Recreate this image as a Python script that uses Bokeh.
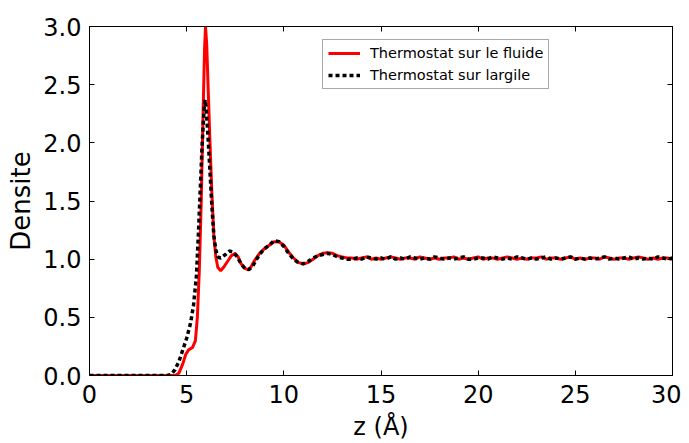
from bokeh.plotting import figure
from bokeh.models import (LinearAxis, Range1d, Legend, LegendItem, FixedTicker,
                          CustomJSTickFormatter)
from bokeh.embed import file_html
from bokeh.resources import INLINE

# ---- data ----
z_red_head = [0.0, 4.0, 4.4, 4.6, 4.8, 4.95, 5.1, 5.3, 5.45, 5.55, 5.65, 5.75, 5.85, 5.92,
              5.97, 6.03, 6.1, 6.2, 6.3, 6.4, 6.5, 6.6, 6.75, 6.9, 7.1, 7.3, 7.5, 7.65,
              7.8, 8.0, 8.15, 8.3, 8.5, 8.75, 9.0, 9.25, 9.5, 9.75, 10.0, 10.25, 10.5,
              10.75, 11.0, 11.25, 11.5, 11.75, 12.0, 12.25, 12.5, 12.75, 13.0, 13.25]
d_red_head = [0.0, 0.0, 0.0, 0.02, 0.1, 0.18, 0.22, 0.24, 0.3, 0.5, 0.9, 1.5, 2.3, 2.8,
              3.0, 2.85, 2.5, 2.0, 1.55, 1.2, 1.02, 0.93, 0.90, 0.93, 0.98, 1.03, 1.05, 1.02,
              0.96, 0.92, 0.91, 0.93, 0.99, 1.05, 1.09, 1.12, 1.15, 1.15, 1.12, 1.06, 1.01,
              0.97, 0.96, 0.97, 1.00, 1.03, 1.05, 1.055, 1.05, 1.03, 1.02, 1.01]

z_black_head = [0.0, 4.0, 4.2, 4.4, 4.6, 4.8, 5.0, 5.2, 5.35, 5.5, 5.6, 5.7, 5.8, 5.9,
                5.95, 6.0, 6.1, 6.2, 6.3, 6.4, 6.5, 6.6, 6.75, 7.0, 7.2, 7.4, 7.6, 7.8,
                8.0, 8.2, 8.4, 8.6, 8.8, 9.0, 9.25, 9.5, 9.75, 10.0, 10.25, 10.5, 10.75,
                11.0, 11.25, 11.5, 11.75, 12.0, 12.25, 12.5, 12.75, 13.0, 13.25]
d_black_head = [0.0, 0.0, 0.01, 0.05, 0.12, 0.22, 0.32, 0.45, 0.6, 0.85, 1.2, 1.6, 2.0, 2.3,
                2.37, 2.3, 2.05, 1.75, 1.45, 1.2, 1.08, 1.02, 1.01, 1.04, 1.07, 1.06, 1.02, 0.96,
                0.92, 0.91, 0.94, 1.0, 1.05, 1.09, 1.12, 1.16, 1.15, 1.11, 1.05, 1.0, 0.97,
                0.96, 0.98, 1.01, 1.03, 1.04, 1.05, 1.04, 1.02, 1.01, 1.0]

z_flat = [13.5, 13.75, 14, 14.25, 14.5, 14.75, 15, 15.25, 15.5, 15.75, 16, 16.25, 16.5, 16.75,
          17, 17.25, 17.5, 17.75, 18, 18.25, 18.5, 18.75, 19, 19.25, 19.5, 19.75, 20, 20.25,
          20.5, 20.75, 21, 21.25, 21.5, 21.75, 22, 22.25, 22.5, 22.75, 23, 23.25, 23.5, 23.75,
          24, 24.25, 24.5, 24.75, 25, 25.25, 25.5, 25.75, 26, 26.25, 26.5, 26.75, 27, 27.25,
          27.5, 27.75, 28, 28.25, 28.5, 28.75, 29, 29.25, 29.5, 29.75, 30]
d_red_flat = [1.01, 1.00, 1.01, 1.02, 1.00, 1.01, 1.00, 1.01, 1.02, 1.01,
              1.00, 1.01, 1.01, 1.00, 1.02, 1.01, 1.00, 1.01, 1.00, 1.01,
              1.01, 1.02, 1.00, 1.01, 1.00, 1.01, 1.02, 1.00, 1.01, 1.01,
              1.00, 1.01, 1.02, 1.01, 1.00, 1.01, 1.00, 1.01, 1.01, 1.02,
              1.00, 1.01, 1.01, 1.00, 1.01, 1.02, 1.00, 1.01, 1.00, 1.01,
              1.01, 1.00, 1.02, 1.01, 1.00, 1.01, 1.01, 1.00, 1.01, 1.02,
              1.01, 1.00, 1.01, 1.00, 1.01, 1.01, 1.00]
d_black_flat = [1.00, 1.01, 1.00, 1.02, 1.01, 1.00, 1.01, 1.00, 1.02, 1.00,
                1.01, 1.00, 1.02, 1.01, 1.00, 1.01, 1.00, 1.02, 1.01, 1.00,
                1.01, 1.00, 1.01, 1.02, 1.00, 1.00, 1.01, 1.01, 1.00, 1.02,
                1.01, 1.00, 1.01, 1.00, 1.02, 1.01, 1.00, 1.01, 1.00, 1.01,
                1.02, 1.00, 1.01, 1.00, 1.01, 1.02, 1.00, 1.01, 1.00, 1.01,
                1.00, 1.01, 1.02, 1.00, 1.01, 1.00, 1.01, 1.02, 1.00, 1.01,
                1.00, 1.01, 1.00, 1.02, 1.01, 1.00, 1.01]

x_ticks = [0, 5, 10, 15, 20, 25, 30]
y_ticks = [0.0, 0.5, 1.0, 1.5, 2.0, 2.5, 3.0]
label_red = "Thermostat sur le fluide"
label_black = "Thermostat sur largile"

z_red = z_red_head + z_flat
d_red = d_red_head + d_red_flat
z_black = z_black_head + z_flat
d_black = d_black_head + d_black_flat

FONT = "DejaVu Sans"

p = figure(width=681, height=443, output_backend="svg", toolbar_location=None,
           x_range=Range1d(0, 30), y_range=Range1d(0, 3),
           min_border_left=89, min_border_right=9, min_border_top=26, min_border_bottom=66)
p.grid.visible = False
p.outline_line_color = "black"
p.outline_line_width = 1
p.background_fill_color = "white"
p.border_fill_color = "white"

r_red = p.line(z_red, d_red, line_color="red", line_width=3)
r_black = p.line(z_black, d_black, line_color="black", line_width=3.5, line_dash="4 3")

for ax in (p.xaxis[0], p.yaxis[0]):
    ax.major_tick_in = 5
    ax.major_tick_out = 0
    ax.minor_tick_line_color = None
    ax.major_label_text_font = FONT
    ax.major_label_text_font_size = "24px"
    ax.major_label_text_color = "black"
    ax.axis_label_text_font = FONT
    ax.axis_label_text_font_style = "normal"
    ax.axis_label_text_color = "black"
    ax.axis_line_color = "black"

p.xaxis[0].axis_label_text_font_size = "24px"
p.yaxis[0].axis_label_text_font_size = "26px"
p.xaxis[0].ticker = FixedTicker(ticks=x_ticks)
p.yaxis[0].ticker = FixedTicker(ticks=y_ticks)
p.yaxis[0].formatter = CustomJSTickFormatter(code="return tick.toFixed(1);")
p.xaxis[0].axis_label = "z (Å)"
p.yaxis[0].axis_label = "Densite"
p.xaxis[0].axis_label_standoff = 7
p.yaxis[0].axis_label_standoff = 4
p.xaxis[0].major_label_standoff = 9
p.yaxis[0].major_label_standoff = 8

blank = CustomJSTickFormatter(code="return '';")
top = LinearAxis(ticker=FixedTicker(ticks=x_ticks), major_tick_in=5, major_tick_out=0,
                 minor_tick_line_color=None, formatter=blank,
                 major_label_standoff=0, axis_line_color="black")
right = LinearAxis(ticker=FixedTicker(ticks=y_ticks), major_tick_in=5, major_tick_out=0,
                   minor_tick_line_color=None, formatter=blank,
                   major_label_standoff=0, axis_line_color="black")
p.add_layout(top, "above")
p.add_layout(right, "right")

legend = Legend(items=[LegendItem(label=label_red, renderers=[r_red]),
                       LegendItem(label=label_black, renderers=[r_black])],
                location=(233, 286))
legend.label_text_font = FONT
legend.label_text_font_size = "14.5px"
legend.label_text_color = "black"
legend.border_line_color = "#555555"
legend.border_line_width = 1
legend.glyph_width = 32
legend.glyph_height = 16
legend.label_height = 16
legend.spacing = 6
legend.padding = 5
legend.margin = 0
legend.label_standoff = 10
p.add_layout(legend, "center")

open("out.html", "w").write(file_html(p, INLINE))
